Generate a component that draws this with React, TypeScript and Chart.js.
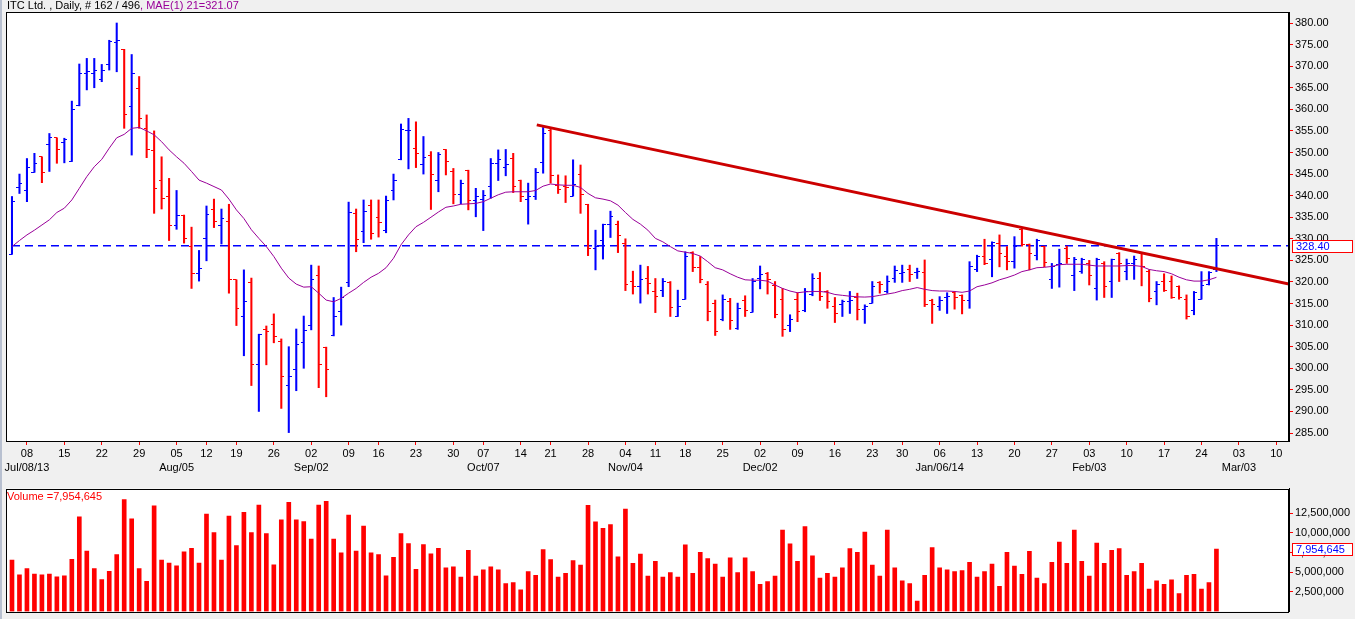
import { useEffect, useRef } from "react";
import { Chart, registerables } from "chart.js";

Chart.register(...registerables);

// daily bars, index 0 = Jul 04 2013, last = Feb 26 2014 (162 bars)
const opens = [
  326.4, 341.9, 341.3, 345.4, 349, 351.9, 353.4, 352.4, 348, 360.8,
  368.2, 368.3, 367, 370.3, 375.5, 373.9, 360.6, 364.9, 355.6, 350.5,
  343.6, 339.9, 333, 335.5, 328.2, 322, 330, 336.7, 333.1, 334.1,
  320.5, 312.1, 319.9, 300.9, 308.9, 310.2, 306.3, 296.1, 299.8, 306,
  310, 321.4, 304.9, 307.5, 313.1, 319.9, 335.9, 331.8, 337.8, 335,
  331.9, 341.1, 348.4, 355, 351, 347.3, 349.4, 343.4, 350.7, 345.7,
  340.3, 345.9, 338.8, 339, 342.2, 347.5, 346.6, 348.6, 343.5, 339,
  339.9, 347.7, 355.2, 342.4, 342.2, 339.9, 345, 338, 327.8, 329.5,
  333.4, 333.2, 328.8, 320.1, 318.9, 320.9, 317.9, 318.1, 319.9, 312.1,
  316, 326.8, 323.4, 319.3, 314.9, 311.2, 315.4, 309.3, 315.8, 313,
  320.8, 322, 319.1, 316, 309.8, 316, 313.3, 317, 320.8, 317.8,
  314.3, 314.7, 315.4, 316.4, 313.7, 315.1, 319.8, 317.8, 320.8, 322,
  322.9, 322.2, 322.2, 315.8, 314.4, 316.4, 317.5, 316.8, 315.8, 322.8,
  326, 325.1, 329, 326, 324.7, 332.2, 328.6, 326.2, 328.2, 320.5,
  324.1, 327.8, 321.4, 322.4, 324.3, 318.5, 324.3, 320.1, 326.6, 322.4,
  324.3, 326.5, 322.4, 317.9, 320.1, 320.1, 318.9, 316, 313.5, 316,
  319.3, 322.8,
];
const highs = [
  339.8, 345, 348.6, 349.8, 349, 354.4, 353.4, 353.3, 361.9, 370.5,
  371.8, 371.8, 370.4, 376, 380, 373.9, 372.7, 367.6, 358.7, 355,
  349, 344, 341.2, 335.5, 332.7, 327.3, 337.6, 339.2, 336.9, 338,
  320.5, 322.8, 320.9, 307.9, 309.8, 312.6, 306.8, 305, 309.1, 312.1,
  323.9, 323.7, 304.9, 316.4, 318.8, 338.5, 336.9, 339, 339, 339,
  339.9, 345, 356.6, 357.9, 357.1, 353.7, 350.2, 350, 350.7, 346.3,
  343.6, 345.9, 341.7, 341.2, 348.6, 350.6, 350.7, 349.8, 343.6, 342.9,
  346.3, 355.8, 355.4, 344.8, 344.6, 348.3, 347.1, 338, 332, 333.4,
  336.4, 334.1, 330, 322.5, 323.9, 323.6, 320.8, 320.8, 320.1, 318.1,
  327, 327, 325.9, 320.1, 315.8, 317, 316.2, 315.1, 316.8, 320.8,
  323.7, 322.2, 320.1, 318.5, 312.4, 317.5, 318.5, 321.9, 322.2, 318,
  316.4, 315.8, 317.8, 317.4, 314.7, 320.1, 320.1, 321.4, 323.7, 323.9,
  323.9, 323.2, 325.1, 316, 316.6, 317.5, 317.8, 317, 324.7, 326.2,
  329.9, 329.3, 330.9, 328.2, 330.5, 332.4, 328.8, 329.9, 328.3, 324.3,
  327.6, 328.3, 325.7, 325.5, 325, 325.5, 324.7, 325.3, 326.8, 325.3,
  326, 326.6, 322.8, 320.1, 321.9, 321.4, 319.1, 317, 317.8, 322.4,
  322.4, 330.1,
];
const lows = [
  326.4, 340.5, 338.6, 345.4, 343, 345.6, 347.5, 347.6, 347.9, 360.8,
  364.5, 365, 366.4, 369.1, 368.7, 355.6, 349.4, 355.6, 348.8, 335.9,
  336.9, 329.6, 332.2, 329, 318.5, 320.2, 324.9, 332.6, 328.8, 317.4,
  309.9, 302.9, 296, 290, 300.8, 305.9, 290.7, 285.1, 294.8, 300,
  308.9, 295.5, 293.4, 307.5, 310, 318.9, 327, 329.1, 329.9, 330.4,
  331.4, 339, 348.3, 346.2, 346.5, 345, 336.8, 340.9, 344.8, 338.1,
  338.1, 336.7, 335.1, 331.9, 339.4, 343.5, 344.6, 340.7, 338.6, 333.4,
  339.1, 345.2, 342.9, 340.5, 338.4, 339.9, 335.9, 326.1, 322.8, 325.3,
  330.3, 326.8, 318, 317.2, 315.1, 317.2, 312.9, 316.6, 312, 312,
  316, 322.4, 319.8, 311, 307.6, 311, 309, 309, 312, 313,
  318.4, 317.2, 311.7, 307.4, 308.5, 310.8, 313.1, 316.8, 315.7, 313.9,
  310.6, 312, 312.7, 311.2, 310.4, 315.1, 317.4, 317.4, 319.9, 319.9,
  320.1, 320.8, 314.3, 310.4, 313.4, 312.7, 313.7, 312.6, 313.9, 322.4,
  324, 321.2, 323.5, 322.8, 323.2, 328.3, 322.8, 325.1, 323.5, 318.5,
  318.8, 324.3, 318, 322, 319.3, 315.8, 316.4, 316.4, 320.1, 320.5,
  320.6, 319.1, 315.4, 314.7, 317.8, 316.2, 316, 311.4, 312.4, 316,
  319.3, 322.4,
];
const closes = [
  338.6, 342.7, 346.6, 347.5, 345.4, 353.4, 350.6, 352.9, 360, 368.3,
  368.7, 369.1, 369.1, 375.7, 375.9, 358.8, 368.2, 357.9, 350.6, 341.7,
  339.4, 333, 335.5, 330.1, 322, 323.2, 335.7, 334.1, 334.6, 320.5,
  313.9, 315.4, 300.9, 307.9, 308.5, 307.3, 298, 298.2, 305.5, 308.7,
  320.5, 300.8, 299.8, 312.1, 316.4, 336.1, 329.9, 336.4, 331.3, 333.8,
  338.8, 343.6, 355.4, 355.2, 349.8, 348.9, 344.8, 349.6, 348, 340.3,
  342.9, 338.8, 339.8, 340, 347.5, 348.4, 347.1, 342.2, 339.8, 339.9,
  345.3, 354.4, 344.6, 341.5, 341.9, 342.5, 340.2, 327.8, 328.2, 333.2,
  335.1, 330.7, 319.3, 318.9, 320.5, 319.7, 316.6, 320.2, 314.1, 314.4,
  326, 323.4, 320.6, 313.1, 308.6, 316, 311, 313.9, 313.5, 320.2,
  321.8, 320.5, 312.5, 308.9, 311.2, 313.1, 317.8, 320.8, 316.6, 315.4,
  312.7, 315.4, 315.8, 313.7, 314.3, 318.9, 319.3, 320.1, 322.6, 322.2,
  321.8, 322.4, 314.8, 314.7, 315.6, 316.6, 316.4, 315.6, 323.5, 325.9,
  324.2, 329.1, 326.6, 324.7, 328.3, 328.6, 326.6, 329.5, 324.6, 323.5,
  324.3, 325.5, 325.2, 325.1, 321.4, 325.2, 318.9, 325.1, 324.3, 324.3,
  325.1, 323.5, 316.2, 319.3, 318, 316.4, 316.4, 312, 317.5, 319.1,
  322.2, 328.4,
];
// volume in millions of shares
const volumeMillions = [
  6.53, 4.65, 5.47, 4.77, 4.65, 4.77, 4.42, 4.53, 6.64, 12.04,
  7.7, 5.47, 4.06, 5.12, 7.23, 14.26, 11.8, 5.47, 3.83, 13.44,
  6.53, 6.17, 5.82, 7.58, 8.05, 6.17, 12.39, 10.04, 6.53, 12.15,
  8.4, 12.62, 10.04, 13.56, 9.93, 5.94, 11.68, 13.91, 11.68, 11.45,
  9.22, 13.56, 14.03, 9.22, 7.46, 12.27, 7.7, 10.86, 7.46, 7.23,
  4.53, 6.88, 9.93, 8.64, 5.35, 8.52, 7.33, 8.03, 5.55, 5.67,
  4.38, 7.78, 4.49, 5.31, 5.67, 5.31, 3.56, 3.67, 2.74, 5.08,
  4.61, 7.89, 6.6, 4.38, 4.85, 6.49, 5.9, 13.52, 11.41, 10.59,
  11.06, 6.96, 13.05, 6.14, 7.31, 4.49, 6.37, 4.38, 4.96, 4.38,
  8.48, 4.85, 7.54, 6.72, 6.02, 4.38, 6.84, 4.96, 6.84, 5.08,
  3.44, 3.79, 4.49, 10.36, 8.6, 6.37, 10.82, 7.07, 4.26, 4.85,
  4.38, 5.55, 8.01, 7.54, 10.12, 5.9, 4.49, 10.36, 5.55, 3.91,
  3.56, 1.33, 4.61, 8.13, 5.55, 5.31, 5.08, 5.2, 6.25, 4.38,
  5.08, 6.02, 3.2, 7.54, 5.78, 4.73, 7.66, 4.26, 3.56, 6.25,
  8.83, 6.14, 10.36, 6.37, 4.49, 8.71, 6.14, 7.78, 8.01, 4.61,
  5.08, 6.14, 2.85, 3.91, 3.44, 4.03, 2.27, 4.61, 4.73, 2.85,
  3.67, 7.954645,
];
// 21-day moving average as plotted
const ma21 = [
  328.2, 329.6, 330.9, 332, 333.2, 334.4, 336.1, 337.1, 339, 341.7,
  344.4, 346.7, 348.4, 351, 353.4, 354.2, 355.6, 355.8, 355, 354.1,
  352.5, 350.6, 349, 347.5, 345.6, 343.6, 342.9, 342.1, 341.3, 339.2,
  336.7, 334.7, 332.1, 330.1, 328.2, 325.9, 323.2, 320.9, 319.5, 318.8,
  318.9, 317.4, 315.8, 315.4, 316.2, 317.4, 318.5, 319.9, 321.1, 322,
  323.3, 325.5, 328.6, 330.9, 332.8, 333.8, 335, 336.2, 337.3, 337.6,
  338, 338.1, 338.2, 338.6, 339.4, 340.2, 340.8, 340.9, 340.9, 340.9,
  341.2, 342.2, 342.7, 342.5, 342.4, 342.4, 341.9, 340.5, 339.5, 339.2,
  338.8, 337.8, 336.1, 334.5, 333.4, 332, 330.1, 329.3, 328.2, 327.2,
  326.9, 326.6, 326, 324.7, 323.3, 322.8, 321.9, 321.1, 320.5, 320.4,
  320.4, 320.2, 319.3, 318.5, 317.9, 317.5, 317.7, 317.8, 317.8, 317.6,
  317.1, 316.9, 316.7, 316.55, 316.5, 316.6, 316.9, 317.2, 317.5, 318,
  318.3, 318.7, 318.3, 318, 317.9, 317.9, 317.8, 317.6, 317.9, 318.9,
  319.3, 319.8, 320.5, 321, 321.6, 322.4, 322.8, 323.3, 323.4, 323.6,
  324, 324.1, 324.1, 324.1, 323.9, 323.7, 323.7, 323.7, 323.7, 323.8,
  323.8, 323.6, 322.9, 322.6, 322.4, 321.9, 321.1, 320.5, 320.2, 320.2,
  320.5, 321.07,
];
const lastVolume = 7954645;
const refLevel = 328.4;

// trendline end points (bar index, price)
const trendX = [70.15, 170.7];
const trendY = [356.4, 319.5];

// x axis: weekly ticks (bar index) and labels
const xTickIdx = [
  2, 7, 12, 17, 22, 26, 30, 35, 40, 45, 49, 54, 59, 63, 68, 72, 77, 82,
  86, 90, 95, 100, 105, 110, 115, 119, 124, 129, 134, 139, 144, 149, 154, 159, 164, 169,
];
const xDayLabels = [
  "08", "15", "22", "29", "05", "12", "19", "26", "02", "09", "16", "23", "30", "07", "14", "21", "28", "04",
  "11", "18", "25", "02", "09", "16", "23", "30", "06", "13", "20", "27", "03", "10", "17", "24", "03", "10",
];
const monthTickIdx = [2, 22, 40, 63, 82, 100, 124, 144, 164];
const monthLabels = ["Jul/08/13", "Aug/05", "Sep/02", "Oct/07", "Nov/04", "Dec/02", "Jan/06/14", "Feb/03", "Mar/03"];

const priceTicks = [285, 290, 295, 300, 305, 310, 315, 320, 325, 330, 335, 340, 345, 350, 355, 360, 365, 370, 375, 380];
const volumeTicks = [2500000, 5000000, 7500000, 10000000, 12500000];

const UP = "#0000ff";
const DOWN = "#ff0000";
const FONT = "'Liberation Sans', Arial, sans-serif";
const X_MIN = -0.8;
const X_MAX = 170.7;

// small horizontal open / close tick used as point style
function tickImage(color: string, side: "left" | "right") {
  const c = document.createElement("canvas");
  c.width = 6;
  c.height = 1;
  const g = c.getContext("2d")!;
  g.fillStyle = color;
  g.fillRect(side === "left" ? 0 : 3, 0, 3, 1);
  return c;
}

// grey page + white plot area + frame
const panelPlugin = {
  id: "panel",
  beforeDraw(chart: any) {
    const { ctx, chartArea: a, width, height } = chart;
    ctx.save();
    ctx.fillStyle = "#f0f0f0";
    ctx.fillRect(0, 0, width, height);
    ctx.fillStyle = "#ffffff";
    ctx.fillRect(a.left, a.top, a.right - a.left, a.bottom - a.top);
    ctx.restore();
  },
  afterDraw(chart: any) {
    const { ctx, chartArea: a } = chart;
    ctx.save();
    ctx.strokeStyle = "#000";
    ctx.lineWidth = 1;
    ctx.strokeRect(Math.round(a.left) + 0.5, Math.round(a.top) + 0.5, Math.round(a.right - a.left) - 1, Math.round(a.bottom - a.top));
    ctx.restore();
  },
};

// last value box on the right axis
function valueBox(id: string, value: number, text: string) {
  return {
    id,
    afterDraw(chart: any) {
      const { ctx } = chart;
      const y = Math.round(chart.scales.y.getPixelForValue(value));
      ctx.save();
      ctx.fillStyle = "#ffffff";
      ctx.fillRect(1292, y - 6, 60, 13);
      ctx.strokeStyle = "#ff0000";
      ctx.lineWidth = 1;
      ctx.strokeRect(1292.5, y - 5.5, 60, 12);
      ctx.fillStyle = "#0000ff";
      ctx.font = `11px ${FONT}`;
      ctx.textBaseline = "middle";
      ctx.textAlign = "left";
      ctx.fillText(text, 1296, y + 1);
      ctx.restore();
    },
  };
}

const volumeTitle = {
  id: "volumeTitle",
  afterDraw(chart: any) {
    const { ctx, chartArea: a } = chart;
    ctx.save();
    ctx.fillStyle = "#ff0000";
    ctx.font = `11px ${FONT}`;
    ctx.textBaseline = "top";
    ctx.fillText("Volume =" + lastVolume.toLocaleString("en-US"), a.left + 1, a.top + 3);
    ctx.restore();
  },
};

export default function App() {
  const priceRef = useRef<HTMLCanvasElement>(null);
  const volRef = useRef<HTMLCanvasElement>(null);

  useEffect(() => {
    if (!priceRef.current || !volRef.current) return;
    const upOpen = tickImage(UP, "left");
    const downOpen = tickImage(DOWN, "left");
    const upClose = tickImage(UP, "right");
    const downClose = tickImage(DOWN, "right");
    const isUp = (i: number) => closes[i] >= opens[i];

    const price = new Chart(priceRef.current, {
      type: "bar",
      data: {
        datasets: [
          {
            type: "line",
            label: "trend",
            data: trendX.map((x, k) => ({ x, y: trendY[k] })),
            borderColor: "#cc0000",
            borderWidth: 3,
            pointRadius: 0,
          },
          {
            type: "line",
            label: "MAE(1) 21",
            data: ma21.map((y, i) => ({ x: i, y })),
            borderColor: "#990099",
            borderWidth: 1,
            pointRadius: 0,
          },
          {
            type: "scatter",
            label: "open",
            data: opens.map((y, i) => ({ x: i, y })),
            pointStyle: (c: any) => (isUp(c.dataIndex) ? upOpen : downOpen),
            pointRadius: 3,
          },
          {
            type: "scatter",
            label: "close",
            data: closes.map((y, i) => ({ x: i, y })),
            pointStyle: (c: any) => (isUp(c.dataIndex) ? upClose : downClose),
            pointRadius: 3,
          },
          {
            type: "bar",
            label: "range",
            data: highs.map((h, i) => ({ x: i, y: [lows[i], h] })),
            backgroundColor: (c: any) => (isUp(c.dataIndex) ? UP : DOWN),
            barThickness: 1.4,
            borderWidth: 0,
          },
          {
            type: "line",
            label: "ref",
            data: [
              { x: 0, y: refLevel },
              { x: X_MAX, y: refLevel },
            ],
            borderColor: UP,
            borderWidth: 1.5,
            borderDash: [8, 5],
            pointRadius: 0,
          },
        ] as any,
      },
      options: {
        animation: false,
        responsive: false,
        events: [],
        layout: { padding: { left: 6, top: 12, right: 0, bottom: 0 } },
        plugins: { legend: { display: false }, tooltip: { enabled: false } },
        scales: {
          x: {
            type: "linear",
            min: X_MIN,
            max: X_MAX,
            offset: false,
            afterBuildTicks: (s: any) => {
              s.ticks = xTickIdx.map((value) => ({ value }));
            },
            afterFit: (s: any) => {
              s.height = 39;
            },
            ticks: {
              autoSkip: false,
              maxRotation: 0,
              padding: 2,
              color: "#000",
              font: { family: FONT, size: 11, lineHeight: "14px" },
              callback: (v: any) => {
                const k = xTickIdx.indexOf(v);
                const m = monthTickIdx.indexOf(v);
                return m >= 0 ? [xDayLabels[k], monthLabels[m]] : xDayLabels[k];
              },
            },
            grid: { drawOnChartArea: false, color: "#ff0000", tickLength: 4, offset: false },
            border: { color: "#000" },
          },
          y: {
            position: "right",
            min: 283.15,
            max: 382.55,
            beginAtZero: false,
            afterBuildTicks: (s: any) => {
              s.ticks = priceTicks.map((value) => ({ value }));
            },
            afterFit: (s: any) => {
              s.width = 66;
            },
            ticks: {
              padding: 2,
              color: "#000",
              font: { family: FONT, size: 11 },
              callback: (v: any) => Number(v).toFixed(2),
            },
            grid: { drawOnChartArea: false, color: "#ff0000", tickLength: 4 },
            border: { color: "#000" },
          },
        },
      } as any,
      plugins: [panelPlugin, valueBox("priceBox", refLevel, refLevel.toFixed(2))],
    });

    const volume = new Chart(volRef.current, {
      type: "bar",
      data: {
        datasets: [
          {
            label: "Volume",
            data: volumeMillions.map((v, i) => ({ x: i, y: v * 1e6 })),
            backgroundColor: "#ff0000",
            barThickness: 4,
            borderWidth: 0,
          },
        ],
      },
      options: {
        animation: false,
        responsive: false,
        events: [],
        layout: { padding: { left: 6, top: 7, right: 0, bottom: 0 } },
        plugins: { legend: { display: false }, tooltip: { enabled: false } },
        scales: {
          x: { type: "linear", display: false, min: X_MIN, max: X_MAX, offset: false },
          y: {
            position: "right",
            min: 0,
            max: 15650000,
            afterBuildTicks: (s: any) => {
              s.ticks = volumeTicks.map((value) => ({ value }));
            },
            afterFit: (s: any) => {
              s.width = 66;
            },
            ticks: {
              padding: 2,
              color: "#000",
              font: { family: FONT, size: 11 },
              callback: (v: any) => Number(v).toLocaleString("en-US"),
            },
            grid: { drawOnChartArea: false, color: "#ff0000", tickLength: 4 },
            border: { color: "#000" },
          },
        },
      } as any,
      plugins: [panelPlugin, volumeTitle, valueBox("volBox", lastVolume, lastVolume.toLocaleString("en-US"))],
    });

    return () => {
      price.destroy();
      volume.destroy();
    };
  }, []);

  return (
    <div
      style={{
        position: "fixed",
        left: 0,
        top: 0,
        width: 1355,
        height: 619,
        overflow: "hidden",
        background: "#f0f0f0",
        fontFamily: FONT,
      }}
    >
      <canvas ref={priceRef} width={1355} height={480} style={{ position: "absolute", left: 0, top: 0, display: "block" }} />
      <canvas ref={volRef} width={1355} height={140} style={{ position: "absolute", left: 0, top: 480, display: "block" }} />
      <div
        style={{
          position: "absolute",
          left: 7,
          top: -1,
          fontSize: 11,
          lineHeight: "12px",
          whiteSpace: "nowrap",
          color: "#000",
        }}
      >
        ITC Ltd. , Daily, # 162 / 496<span style={{ color: "#990099" }}>, MAE(1) 21=321.07</span>
      </div>
      <div style={{ position: "absolute", left: 0, top: 0, width: 2, height: 619, background: "#b8c0d0" }} />
    </div>
  );
}
